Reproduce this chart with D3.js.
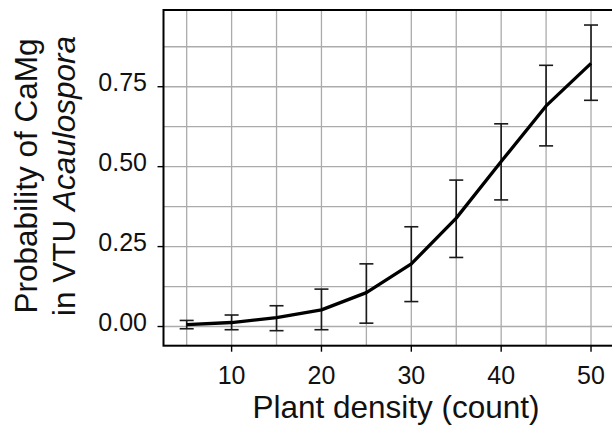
<!DOCTYPE html>
<html>
<head>
<meta charset="utf-8">
<script src="https://cdn.jsdelivr.net/npm/d3@7"></script>
<style>
  html, body { margin: 0; padding: 0; background: #fff; }
  svg { display: block; }
  text { font-family: "Liberation Sans", Arial, Helvetica, sans-serif; }
</style>
</head>
<body>
<svg id="chart" width="612" height="427"></svg>
<script>
// ---- data ----
const density = [5, 10, 15, 20, 25, 30, 35, 40, 45, 50];
const prob    = [0.006, 0.0125, 0.028, 0.052, 0.106, 0.196, 0.339, 0.516, 0.690, 0.823];
const lower   = [-0.007, -0.010, -0.013, -0.010, 0.0105, 0.078, 0.216, 0.396, 0.565, 0.7075];
const upper   = [0.019, 0.036, 0.065, 0.117, 0.196, 0.312, 0.458, 0.634, 0.817, 0.943];
const xTicks = [10, 20, 30, 40, 50];
const xGrid  = [5, 10, 15, 20, 25, 30, 35, 40, 45, 50];
const yTicks = [0, 0.25, 0.5, 0.75];
const yGrid  = [0, 0.125, 0.25, 0.375, 0.5, 0.625, 0.75, 0.875];
const yTickLabels = ["0.00", "0.25", "0.50", "0.75"];

const svg = d3.select("#chart");
const panel = { left: 163.5, top: 10, right: 614.2, bottom: 345.7 };

const x = d3.scaleLinear().domain([2.42, 52.58]).range([panel.left, panel.right]);
const y = d3.scaleLinear().domain([-0.06, 0.99]).range([panel.bottom, panel.top]);

// gridlines
const g = svg.append("g");
g.selectAll("line.vg").data(xGrid).join("line")
  .attr("x1", d => x(d)).attr("x2", d => x(d))
  .attr("y1", panel.top).attr("y2", panel.bottom)
  .attr("stroke", "#ababab").attr("stroke-width", 1.3);
g.selectAll("line.hg").data(yGrid).join("line")
  .attr("y1", d => y(d)).attr("y2", d => y(d))
  .attr("x1", panel.left).attr("x2", panel.right)
  .attr("stroke", "#ababab").attr("stroke-width", 1.3);

// error bars
const bw = 0.78;
const eb = svg.append("g").attr("stroke", "#1a1a1a").attr("stroke-width", 1.6).attr("fill", "none");
density.forEach((d, i) => {
  eb.append("line").attr("x1", x(d)).attr("x2", x(d)).attr("y1", y(lower[i])).attr("y2", y(upper[i]));
  eb.append("line").attr("x1", x(d - bw)).attr("x2", x(d + bw)).attr("y1", y(lower[i])).attr("y2", y(lower[i]));
  eb.append("line").attr("x1", x(d - bw)).attr("x2", x(d + bw)).attr("y1", y(upper[i])).attr("y2", y(upper[i]));
});

// line
const line = d3.line().x((d, i) => x(density[i])).y(d => y(d));
svg.append("path").datum(prob).attr("d", line)
  .attr("fill", "none").attr("stroke", "#000").attr("stroke-width", 3.3)
  .attr("stroke-linejoin", "round");

// panel border
svg.append("rect")
  .attr("x", panel.left).attr("y", panel.top)
  .attr("width", panel.right - panel.left).attr("height", panel.bottom - panel.top)
  .attr("fill", "none").attr("stroke", "#000").attr("stroke-width", 2);

// x axis ticks and labels
const xa = svg.append("g");
xa.selectAll("line").data(xTicks).join("line")
  .attr("x1", d => x(d)).attr("x2", d => x(d))
  .attr("y1", panel.bottom).attr("y2", panel.bottom + 6)
  .attr("stroke", "#000").attr("stroke-width", 1.4);
xa.selectAll("text").data(xTicks).join("text")
  .attr("x", d => x(d)).attr("y", 384)
  .attr("text-anchor", "middle").attr("font-size", 25).attr("fill", "#111")
  .text(d => d);

// y axis ticks and labels
const ya = svg.append("g");
ya.selectAll("line").data(yTicks).join("line")
  .attr("y1", d => y(d)).attr("y2", d => y(d))
  .attr("x1", panel.left - 6).attr("x2", panel.left)
  .attr("stroke", "#000").attr("stroke-width", 1.4);
ya.selectAll("text").data(yTicks).join("text")
  .attr("x", 147).attr("y", d => y(d) + 4.3)
  .attr("text-anchor", "end").attr("font-size", 25).attr("fill", "#111")
  .text((d, i) => yTickLabels[i]);

// axis titles
svg.append("text")
  .attr("x", 396).attr("y", 418)
  .attr("text-anchor", "middle").attr("font-size", 31.5).attr("fill", "#111")
  .text("Plant density (count)");

const yt = svg.append("text")
  .attr("transform", "translate(0,176) rotate(-90)")
  .attr("text-anchor", "middle").attr("font-size", 31.5).attr("fill", "#111");
yt.append("tspan").attr("x", 0).attr("y", 36.5).text("Probability of CaMg");
const l2 = yt.append("tspan").attr("x", 0).attr("y", 75);
yt.append("tspan").attr("x", 0).attr("y", 75).text("");
l2.text("in VTU ");
yt.append("tspan").attr("font-style", "italic").text("Acaulospora");
</script>
</body>
</html>
